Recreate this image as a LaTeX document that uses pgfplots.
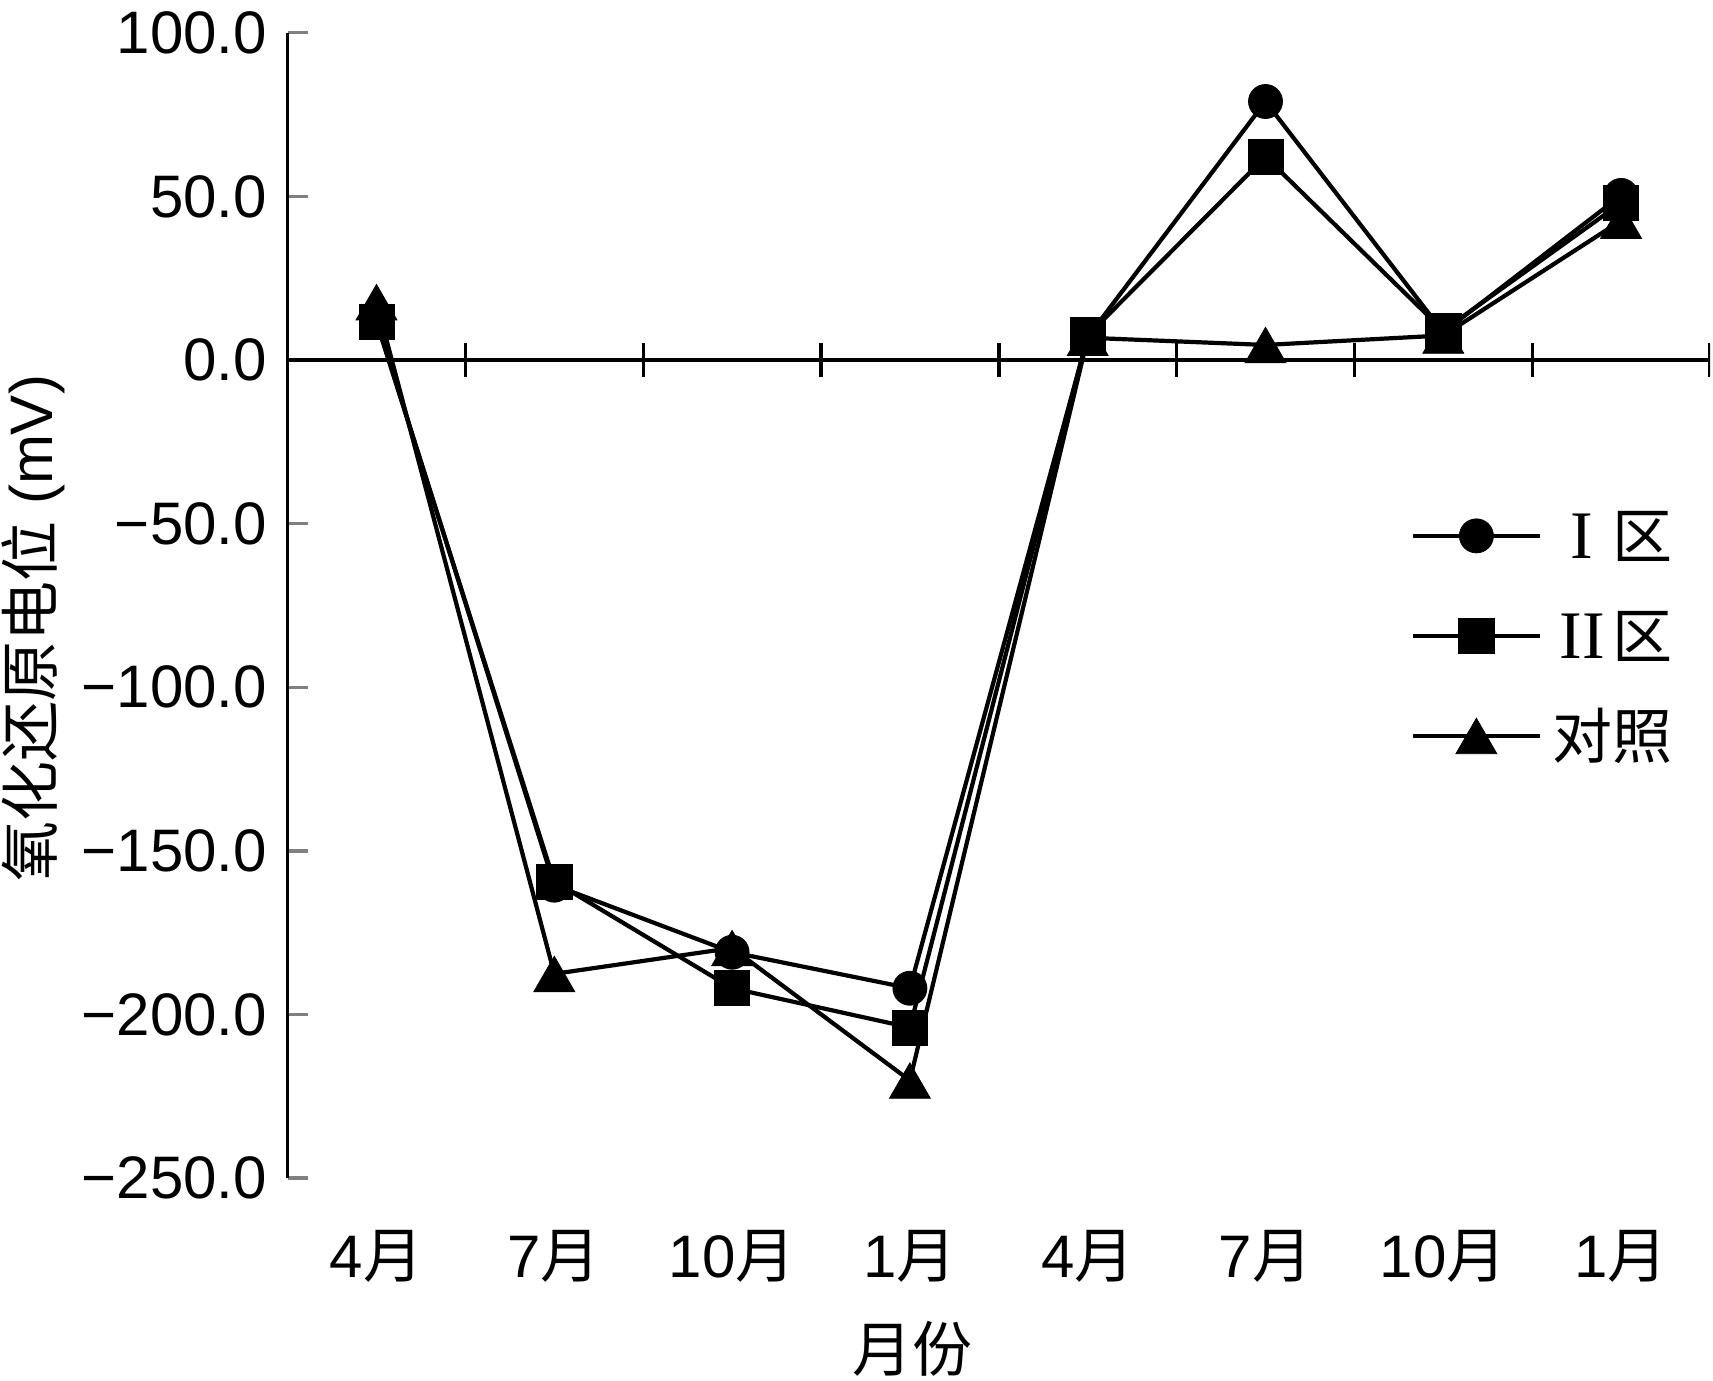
\documentclass[border=0pt]{standalone}
\usepackage{pgfplots}
\pgfplotsset{compat=1.18}
\usepackage{fontspec}
\setmainfont{Liberation Sans}
\newfontfamily\cjk{Noto Sans CJK SC}
\newfontfamily\serif{Liberation Serif}
\newcommand\fs{\fontsize{15}{18}\selectfont}
\newcommand\romnum[1]{\makebox[15pt]{\serif\fontsize{17}{18}\selectfont #1}}
\begin{document}
\begin{tikzpicture}
\begin{axis}[name=ax, scale only axis, width=355.6pt, height=286.3pt,
  xmin=-0.5, xmax=7.5, ymin=-250, ymax=100,
  axis x line*=bottom, axis y line*=left,
  x axis line style={draw=none},
  xtick={0,1,2,3,4,5,6,7},
  xticklabels={4{\cjk 月},7{\cjk 月},10{\cjk 月},1{\cjk 月},4{\cjk 月},7{\cjk 月},10{\cjk 月},1{\cjk 月}},
  xtick style={draw=none},
  ytick={-250,-200,-150,-100,-50,0,50,100},
  yticklabels={−250.0,−200.0,−150.0,−100.0,−50.0,0.0,50.0,100.0},
  tick align=inside, major tick length=5pt,
  y axis line style={line width=0.85pt}, ytick style={line width=0.85pt},
  tick label style={font=\fs},
  yticklabel style={anchor=east, inner sep=0pt, xshift=-5pt},
  xticklabel style={anchor=center, inner sep=0pt, yshift=-19.5pt},
  ylabel={{\cjk 氧化还原电位} (mV)},
  ylabel style={font=\fs, at={([xshift=-63.5pt]rel axis cs:0,0.48)}, anchor=center},
  xlabel={\cjk 月份},
  xlabel style={font=\fs, at={([yshift=-42.6pt]rel axis cs:0.439,0)}, anchor=center},
  legend style={draw=none, fill=none, at={(rel axis cs:0.789,0.4692)}, anchor=west,
    inner sep=0pt, row sep=10pt, column sep=2.5pt, font=\fs,
    nodes={inner sep=0pt, text height=12pt, text depth=3pt}},
  legend cell align=left,
  legend image code/.code={\draw[mark repeat=2,mark phase=2,#1] plot coordinates {(0pt,1.2pt) (15.9pt,1.2pt) (31.8pt,1.2pt)};},
]
\addlegendimage{black, line width=1.05pt, mark=*, mark size=4.25pt, mark options={line width=0.2pt}}
\addlegendentry{\romnum{I}{\cjk 区}}
\addlegendimage{black, line width=1.05pt, mark=square*, mark size=4.4pt, mark options={line width=0.2pt}}
\addlegendentry{\romnum{II}{\cjk 区}}
\addlegendimage{black, line width=1.05pt, mark=triangle*, mark size=5.9pt, mark options={line width=0.2pt, yshift=-1.5pt}}
\addlegendentry{\cjk 对照}

\draw[line width=0.85pt] (axis cs:-0.5,0) -- (axis cs:7.5,0);
\pgfplotsinvokeforeach{0.5,1.5,2.5,3.5,4.5,5.5,6.5,7.5}{\draw[line width=0.85pt] ([yshift=4.3pt]axis cs:#1,0) -- ([yshift=-4.3pt]axis cs:#1,0);}

\addplot[black, line width=1.05pt, mark=triangle*, mark size=5.9pt, mark options={line width=0.2pt, yshift=-1.5pt}, forget plot]
  coordinates {(0,17.7) (1,-187.6) (2,-179.7) (3,-220.2) (4,6.8) (5,4.6) (6,7.5) (7,42.6)};
\addplot[black, line width=1.05pt, mark=*, mark size=4.25pt, mark options={line width=0.2pt}, forget plot]
  coordinates {(0,12) (1,-160.5) (2,-181) (3,-192) (4,7) (5,79) (6,8.5) (7,50.3)};
\addplot[black, line width=1.05pt, mark=square*, mark size=4.4pt, mark options={line width=0.2pt}, forget plot]
  coordinates {(0,11.6) (1,-159.4) (2,-192) (3,-204) (4,7.5) (5,62.1) (6,9.0) (7,48)};
\end{axis}
\pgfresetboundingbox
\path[use as bounding box] ([xshift=-71.9pt,yshift=-50.5pt]ax.south west) rectangle ([xshift=0.75pt,yshift=8.2pt]ax.north east);
\end{tikzpicture}
\end{document}
